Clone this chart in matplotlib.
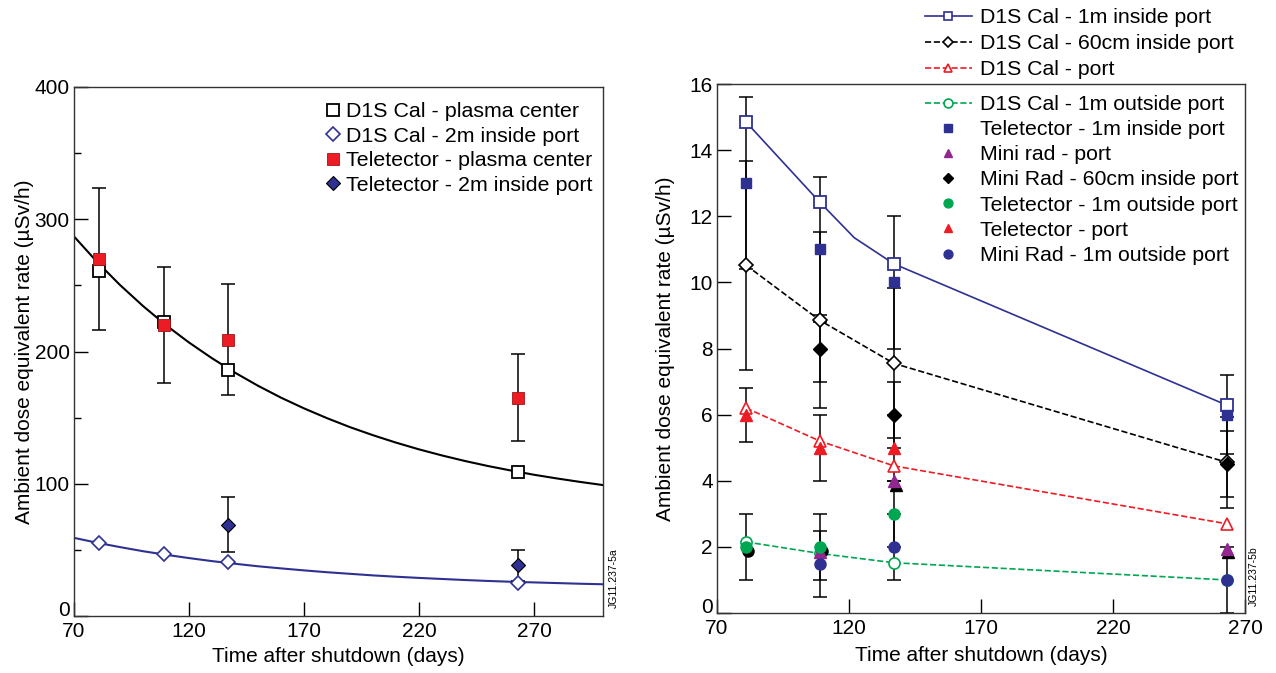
import matplotlib
matplotlib.use('Agg')
import matplotlib.pyplot as plt
from matplotlib.ticker import MultipleLocator

plt.rcParams['font.family'] = ['Liberation Sans', 'DejaVu Sans']
plt.rcParams['font.size'] = 15

# ---------- left panel data ----------
days_l = [81, 109, 137, 263]
d1s_center = [261, 222, 186, 108.6]
d1s_2m = [55.2, 47.1, 40.9, 25.3]
tele_center = [270, 220, 209, 165]
tele_center_err = [54, 44, 42, 33]
days_tele_2m = [137, 263]
tele_2m = [69, 38.3]
tele_2m_err = [20.7, 11.5]

# fitted decay curves
fit_days = [70, 80, 90, 100, 110, 120, 130, 140, 150, 160, 170, 180,
            190, 200, 210, 220, 230, 240, 250, 260, 270, 280, 290, 300]
fit_center = [287.0, 267.8, 250.3, 234.4, 219.9, 206.8, 194.9, 184.0,
              174.1, 165.1, 157.0, 149.6, 142.8, 136.7, 131.1, 126.0,
              121.4, 117.2, 113.4, 110.0, 106.8, 104.0, 101.4, 99.0]
fit_2m = [59.1, 55.4, 52.1, 49.0, 46.3, 43.8, 41.5, 39.5, 37.6, 36.0,
          34.5, 33.1, 31.9, 30.7, 29.7, 28.8, 28.0, 27.2, 26.5, 25.9,
          25.4, 24.9, 24.4, 24.0]

# ---------- right panel data ----------
days_r = [81, 109, 137, 263]
d1s_1m_in = [14.85, 12.42, 10.56, 6.29]
d1s_1m_in_line_days = [81, 109, 122, 137, 263]
d1s_1m_in_line = [14.85, 12.42, 11.35, 10.56, 6.29]
d1s_60cm = [10.52, 8.85, 7.55, 4.56]
d1s_60cm_err = [3.16, 2.66, 2.27, 1.37]
d1s_port = [6.2, 5.2, 4.45, 2.7]
d1s_1m_out = [2.15, 1.8, 1.52, 1.0]

tele_1m_in = [13.0, 11.0, 10.0, 6.0]
tele_1m_in_err = [2.6, 2.2, 2.0, 1.2]
days_tele_port = [81, 109, 137]
tele_port = [6.0, 5.0, 5.0]
tele_port_lo = [0.83, 1.0, 1.0]
tele_port_hi = [0.82, 0.98, 1.0]
days_tele_out = [81, 109, 137]
tele_out = [2.0, 2.0, 3.0]
tele_out_err = [1.0, 1.0, 1.0]

days_mini = [109, 137, 263]
mini_60cm = [8.0, 6.0, 4.5]
mini_60cm_err = [1.0, 1.0, 1.0]
mini_out = [1.47, 2.0, 1.0]
mini_out_err = [1.0, 1.0, 1.0]
mini_port = [1.85, 4.0, 1.95]

# dark markers partly hidden behind the coloured ones
dark_circle_days = [81.7, 109.7]
dark_circle = [1.88, 1.88]
dark_tri_days = [137.7, 263.7]
dark_tri = [3.88, 1.85]

NAVY = '#2e3192'
RED = '#ed1c24'
GREEN = '#00a651'
PURPLE = '#92278f'

fig = plt.figure(figsize=(12.76, 6.73), dpi=100)
W, H = 1276, 673


def box(x0, y0, x1, y1):
    return [x0 / W, 1 - y1 / H, (x1 - x0) / W, (y1 - y0) / H]


ax1 = fig.add_axes(box(74, 87, 603, 616))
ax2 = fig.add_axes(box(717, 84, 1245, 613))

ebar = dict(fmt='none', ecolor='black', elinewidth=1.1, capsize=5, capthick=1.1)

# ---- left ----
ax1.plot(fit_days, fit_center, color='black', lw=1.5, zorder=2)
ax1.plot(fit_days, fit_2m, color=NAVY, lw=1.5, zorder=2)
ax1.errorbar(days_l, tele_center, yerr=tele_center_err, zorder=3, **ebar)
ax1.errorbar(days_tele_2m, tele_2m, yerr=tele_2m_err, zorder=3, **ebar)
ax1.plot(days_l, d1s_center, 's', ms=8.5, mfc='white', mec='black', mew=1.3,
         zorder=4, label='D1S Cal - plasma center')
ax1.plot(days_l, d1s_2m, 'D', ms=7, mfc='white', mec=NAVY, mew=1.2,
         zorder=4, label='D1S Cal - 2m inside port')
ax1.plot(days_l, tele_center, 's', ms=8, mfc=RED, mec='#a01418', mew=0.6,
         zorder=5, label='Teletector - plasma center')
ax1.plot(days_tele_2m, tele_2m, 'D', ms=7, mfc=NAVY, mec='black', mew=0.8,
         zorder=5, label='Teletector - 2m inside port')

ax1.set_xlim(70, 300)
ax1.set_ylim(0, 400)
ax1.set_xticks([70, 120, 170, 220, 270])
ax1.set_yticks([0, 100, 200, 300, 400])
ax1.yaxis.set_minor_locator(MultipleLocator(50))
ax1.set_xlabel('Time after shutdown (days)')
ax1.set_ylabel('Ambient dose equivalent rate (µSv/h)')
ax1.xaxis.set_label_coords(0.5, -0.058)
ax1.yaxis.set_label_coords(-0.076, 0.5)
ax1.legend(loc='upper left', bbox_to_anchor=(326 / W, 1 - 102 / H),
           bbox_transform=fig.transFigure, frameon=False, borderpad=0,
           borderaxespad=0, handlelength=0.7, handletextpad=0.25,
           labelspacing=0.26, numpoints=1, fontsize=15.4)
fig.text(614 / W, 1 - 608 / H, 'JG11.237-5a', rotation=90, fontsize=7.5,
         ha='center', va='bottom')

# ---- right ----
ax2.errorbar(days_r, tele_1m_in, yerr=tele_1m_in_err, zorder=2, **ebar)
ax2.errorbar(days_r, d1s_60cm, yerr=d1s_60cm_err, zorder=2, **ebar)
ax2.errorbar(days_tele_port, tele_port, yerr=[tele_port_lo, tele_port_hi], zorder=2, **ebar)
ax2.errorbar(days_tele_out, tele_out, yerr=tele_out_err, zorder=2, **ebar)
ax2.errorbar(days_mini, mini_60cm, yerr=mini_60cm_err, zorder=2, **ebar)
ax2.errorbar(days_mini, mini_out, yerr=mini_out_err, zorder=2, **ebar)

ax2.plot(d1s_1m_in_line_days, d1s_1m_in_line, '-', color=NAVY, lw=1.2, zorder=3)
h1, = ax2.plot(days_r, d1s_1m_in, 's', ms=8.5, mfc='white', mec=NAVY, mew=1.3,
               zorder=4)
h2, = ax2.plot(days_r, d1s_60cm, '--', color='black', lw=1.2, marker='D', ms=7,
               mfc='white', mec='black', mew=1.2, zorder=4)
h3, = ax2.plot(days_r, d1s_port, '--', color=RED, lw=1.2, marker='^', ms=8,
               mfc='white', mec=RED, mew=1.2, zorder=4)
h4, = ax2.plot(days_r, d1s_1m_out, '--', color=GREEN, lw=1.2, marker='o', ms=8,
               mfc='white', mec=GREEN, mew=1.2, zorder=4)

ax2.plot(dark_circle_days, dark_circle, 'o', ms=8, color='black', zorder=5)
ax2.plot(dark_tri_days, dark_tri, '^', ms=8, color='black', zorder=5)

h5, = ax2.plot(days_r, tele_1m_in, 's', ms=7, color=NAVY, zorder=6)
h6, = ax2.plot(days_mini, mini_port, '^', ms=8, color=PURPLE, zorder=6)
h7, = ax2.plot(days_mini, mini_60cm, 'D', ms=7, color='black', zorder=6)
h8, = ax2.plot(days_tele_out, tele_out, 'o', ms=8, color=GREEN, zorder=6)
h9, = ax2.plot(days_tele_port, tele_port, '^', ms=8, color=RED, zorder=6)
h10, = ax2.plot(days_mini, mini_out, 'o', ms=8, color=NAVY, zorder=6)

# the D1S line handle shows a line through the marker
h1_leg, = ax2.plot([], [], '-', color=NAVY, lw=1.2, marker='s', ms=7,
                   mfc='white', mec=NAVY, mew=1.2)

ax2.set_xlim(70, 270)
ax2.set_ylim(0, 16)
ax2.set_xticks([70, 120, 170, 220, 270])
ax2.set_yticks([0, 2, 4, 6, 8, 10, 12, 14, 16])
ax2.set_xlabel('Time after shutdown (days)')
ax2.set_ylabel('Ambient dose equivalent rate (µSv/h)')
ax2.xaxis.set_label_coords(0.5, -0.062)
ax2.yaxis.set_label_coords(-0.079, 0.5)

leg_kw = dict(bbox_transform=fig.transFigure, frameon=False, borderpad=0,
              borderaxespad=0, handlelength=2.2, handletextpad=0.4,
              numpoints=1, markerscale=0.8, loc='upper left', fontsize=15.3)
leg_a = ax2.legend([h1_leg, h2, h3],
                   ['D1S Cal - 1m inside port', 'D1S Cal - 60cm inside port',
                    'D1S Cal - port'],
                   bbox_to_anchor=(925 / W, 1 - 8 / H), labelspacing=0.33,
                   **leg_kw)
ax2.add_artist(leg_a)
ax2.legend([h4, h5, h6, h7, h8, h9, h10],
           ['D1S Cal - 1m outside port', 'Teletector - 1m inside port',
            'Mini rad - port', 'Mini Rad - 60cm inside port',
            'Teletector - 1m outside port', 'Teletector - port',
            'Mini Rad - 1m outside port'],
           bbox_to_anchor=(925 / W, 1 - 95 / H), labelspacing=0.29, **leg_kw)
fig.text(1254 / W, 1 - 606 / H, 'JG11.237-5b', rotation=90, fontsize=7.5,
         ha='center', va='bottom')

for ax in (ax1, ax2):
    ax.tick_params(direction='in', which='major', length=10, width=1, pad=3,
                   labelsize=15)
    ax.tick_params(axis='x', which='major', pad=4)
    ax.tick_params(direction='in', which='minor', length=5, width=1)
    for s in ax.spines.values():
        s.set_linewidth(1)
        s.set_color('#333333')
    # the zero label sits on the x axis line, above the first x label
    ax.get_yticklabels()[0].set_va('baseline')

fig.savefig('out.png', dpi=100)
